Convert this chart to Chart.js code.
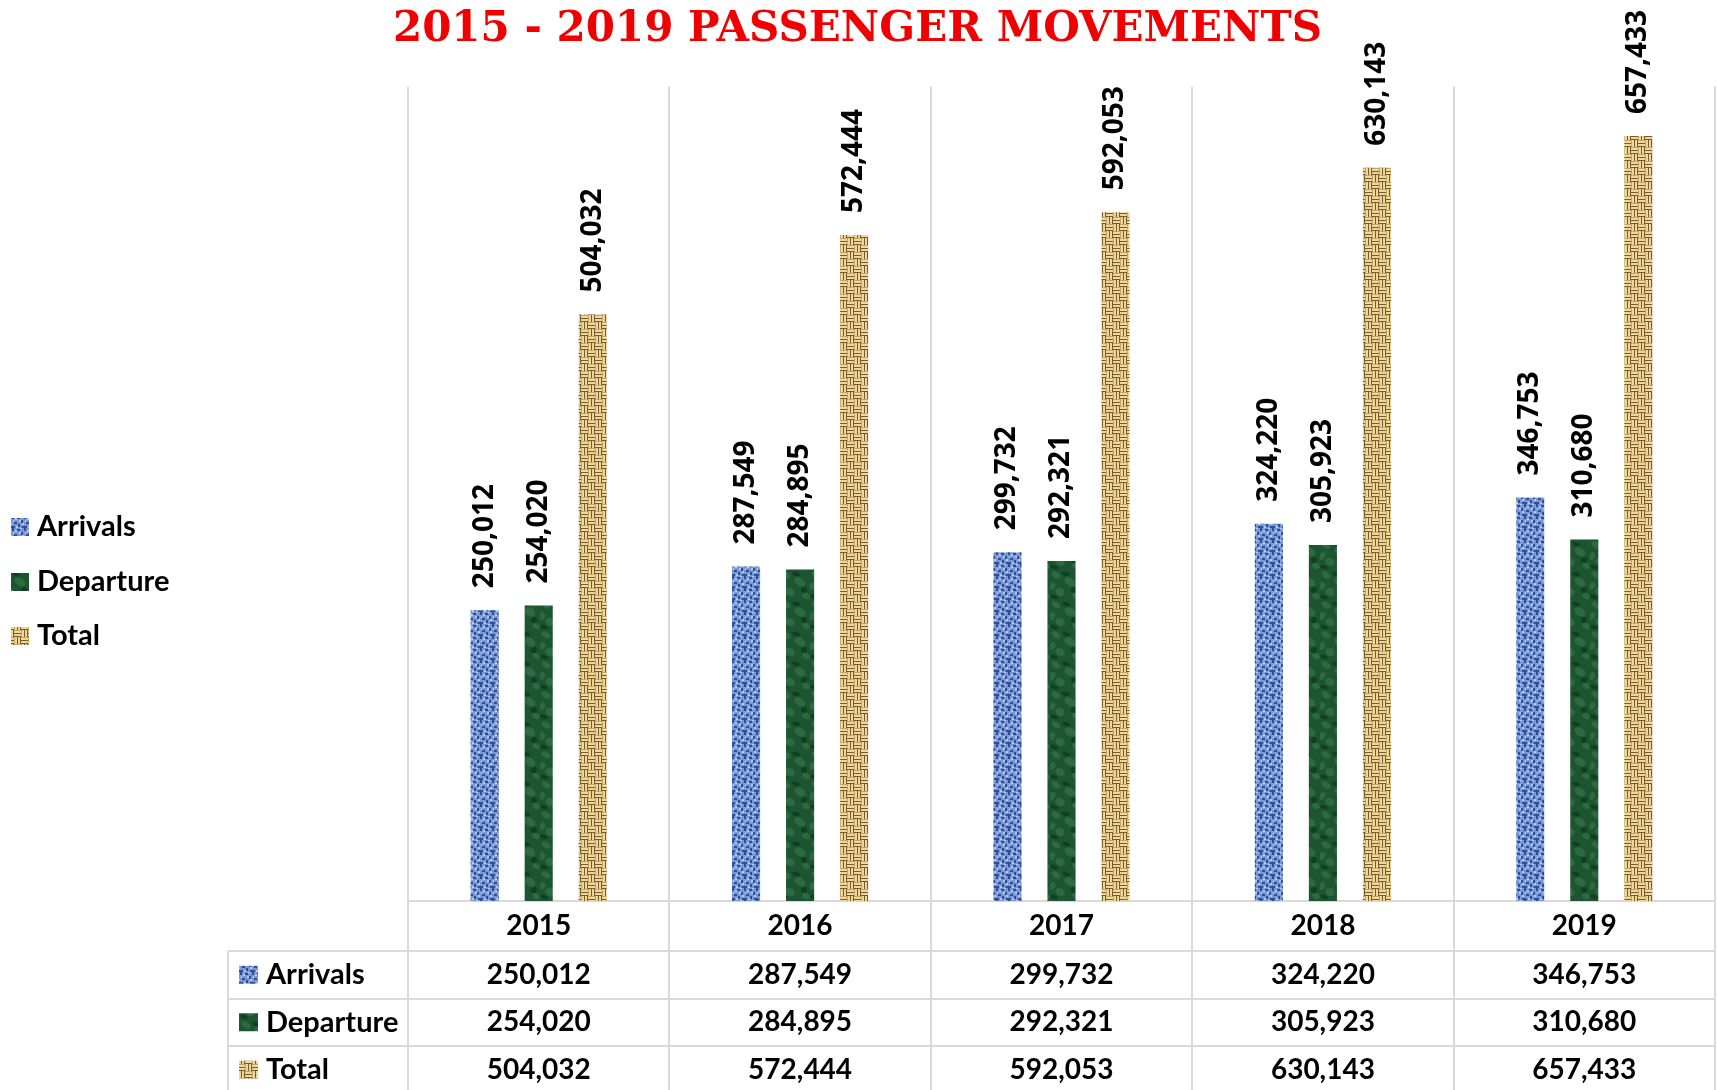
<!DOCTYPE html>
<html><head><meta charset="utf-8">
<script src="https://cdn.jsdelivr.net/npm/chart.js@4.4.1/dist/chart.umd.min.js"></script>
<style>html,body{margin:0;padding:0;background:#fff;}</style>
</head><body>
<canvas id="c" width="1717" height="1090"></canvas>
<script>
const titleText = '2015 - 2019 PASSENGER MOVEMENTS';
const categories = ['2015', '2016', '2017', '2018', '2019'];
const seriesNames = ['Arrivals', 'Departure', 'Total'];
const arrivals = [250012, 287549, 299732, 324220, 346753];
const departure = [254020, 284895, 292321, 305923, 310680];
const total = [504032, 572444, 592053, 630143, 657433];

const fmt = v => v.toLocaleString('en-US');

function tile(w, h, draw) {
  const c = document.createElement('canvas'); c.width = w; c.height = h;
  const g = c.getContext('2d'); draw(g); return c;
}
const cctx = document.getElementById('c').getContext('2d');
const blueTile = tile(12, 12, g => {
  g.fillStyle = '#7a98d8'; g.fillRect(0, 0, 12, 12);
  g.fillStyle = '#2f4f94';
  [[0,0,2,3],[5,1,3,2],[9,4,2,3],[2,6,3,2],[6,8,2,3],[0,10,3,2],[10,10,2,2]].forEach(r => g.fillRect(...r));
  g.fillStyle = '#b3c9f3';
  [[3,2,2,2],[7,4,2,2],[1,4,1,2],[8,0,2,1],[4,10,2,2],[10,7,2,2]].forEach(r => g.fillRect(...r));
});
const greenTile = tile(30, 30, g => {
  g.fillStyle = '#1d5431'; g.fillRect(0, 0, 30, 30);
  g.fillStyle = 'rgba(60,130,80,0.5)';
  [[6,5,5,3],[20,12,6,4],[10,22,5,4],[26,26,4,3],[2,16,3,4]].forEach(e => { g.beginPath(); g.ellipse(e[0], e[1], e[2], e[3], 0.6, 0, Math.PI*2); g.fill(); });
  g.fillStyle = 'rgba(10,40,20,0.5)';
  [[16,4,4,2],[4,27,4,2],[24,20,3,3]].forEach(e => { g.beginPath(); g.ellipse(e[0], e[1], e[2], e[3], 0.3, 0, Math.PI*2); g.fill(); });
});
const tanTile = tile(14, 14, g => {
  g.fillStyle = '#c6a561'; g.fillRect(0, 0, 14, 14);
  const light = '#eed79e', dark = '#7a5a28';
  [[0,0],[7,7]].forEach(([x,y]) => {
    g.fillStyle = light; g.fillRect(x, y+1, 7, 2); g.fillRect(x, y+4, 7, 2);
    g.fillStyle = dark; g.fillRect(x, y+3, 7, 1); g.fillRect(x, y+6, 7, 1);
  });
  [[7,0],[0,7]].forEach(([x,y]) => {
    g.fillStyle = light; g.fillRect(x+1, y, 2, 7); g.fillRect(x+4, y, 2, 7);
    g.fillStyle = dark; g.fillRect(x+3, y, 1, 7); g.fillRect(x+6, y, 1, 7);
  });
});
const pBlue = cctx.createPattern(blueTile, 'repeat');
const pGreen = cctx.createPattern(greenTile, 'repeat');
const pTan = cctx.createPattern(tanTile, 'repeat');
const fills = [pBlue, pGreen, pTan];

const barLabels = {
  id: 'barLabels',
  afterDatasetsDraw(chart) {
    const ctx = chart.ctx;
    ctx.save();
    ctx.font = 'bold 28px "Open Sans"';
    ctx.fillStyle = '#000';
    ctx.textAlign = 'left';
    ctx.textBaseline = 'middle';
    chart.data.datasets.forEach((ds, i) => {
      chart.getDatasetMeta(i).data.forEach((bar, j) => {
        ctx.save();
        ctx.translate(bar.x, bar.y - 22);
        ctx.rotate(-Math.PI / 2);
        ctx.fillText(fmt(ds.data[j]), 0, 0);
        ctx.restore();
      });
    });
    ctx.restore();
  }
};

const tablePlugin = {
  id: 'dataTable',
  afterDraw(chart) {
    const ctx = chart.ctx;
    const xs = chart.scales.x;
    const area = chart.chartArea;
    const rowTop = area.bottom;
    const rowH = 47.5;
    const leftX = 228;
    const right = area.right;
    ctx.save();
    ctx.strokeStyle = '#d9d9d9';
    ctx.lineWidth = 2;
    for (let r = 1; r <= 3; r++) {
      const y = Math.round(rowTop + 50 + (r - 1) * rowH);
      ctx.beginPath(); ctx.moveTo(leftX, y); ctx.lineTo(right, y); ctx.stroke();
    }
    ctx.beginPath(); ctx.moveTo(leftX, rowTop + 50); ctx.lineTo(leftX, chart.height); ctx.stroke();

    ctx.fillStyle = '#000';
    ctx.textBaseline = 'middle';
    ctx.textAlign = 'center';
    ctx.font = 'bold 28px Lato';
    const headerY = rowTop + 25;
    categories.forEach((c, i) => ctx.fillText(c, xs.getPixelForValue(i), headerY));
    const rows = [arrivals, departure, total];
    rows.forEach((vals, r) => {
      const cy = rowTop + 50 + r * rowH + rowH / 2;
      ctx.font = 'bold 28px Lato';
      ctx.textAlign = 'center';
      vals.forEach((v, i) => ctx.fillText(fmt(v), xs.getPixelForValue(i), cy));
      ctx.fillStyle = fills[r];
      ctx.fillRect(239, cy - 9, 19, 18);
      ctx.fillStyle = '#000';
      ctx.textAlign = 'left';
      ctx.font = 'bold 29px Lato';
      ctx.fillText(seriesNames[r], 266, cy);
    });

    const legY = [527, 582, 636];
    ctx.font = 'bold 29px Lato';
    seriesNames.forEach((n, r) => {
      ctx.fillStyle = fills[r];
      ctx.fillRect(11, legY[r] - 9, 18, 18);
      ctx.fillStyle = '#000';
      ctx.textAlign = 'left';
      ctx.fillText(n, 37, legY[r]);
    });
    ctx.restore();
  }
};

new Chart(document.getElementById('c'), {
  type: 'bar',
  data: {
    labels: categories,
    datasets: [
      { label: seriesNames[0], data: arrivals, backgroundColor: pBlue },
      { label: seriesNames[1], data: departure, backgroundColor: pGreen },
      { label: seriesNames[2], data: total, backgroundColor: pTan }
    ]
  },
  options: {
    responsive: false,
    animation: false,
    devicePixelRatio: 1,
    layout: { padding: { left: 0, right: 2, top: 0, bottom: 0 } },
    datasets: { bar: { categoryPercentage: 0.62, barPercentage: 0.52 } },
    plugins: {
      legend: { display: false },
      tooltip: { enabled: false },
      title: {
        display: true,
        text: titleText,
        color: '#f00000',
        font: { family: "'DejaVu Serif', serif", weight: 'bold', size: 42, lineHeight: 1.3 },
        padding: { top: 3, bottom: 29 }
      }
    },
    scales: {
      x: {
        grid: { offset: true, color: '#d9d9d9', lineWidth: 2, tickLength: 189, drawTicks: true },
        border: { display: true, color: '#d9d9d9', width: 2 },
        ticks: { display: false },
        afterFit: s => { s.height = 189; }
      },
      y: {
        min: 0, max: 700000,
        grid: { display: false },
        border: { display: false },
        ticks: { display: false },
        afterFit: s => { s.width = 408; }
      }
    }
  },
  plugins: [barLabels, tablePlugin]
});
</script>
</body></html>
